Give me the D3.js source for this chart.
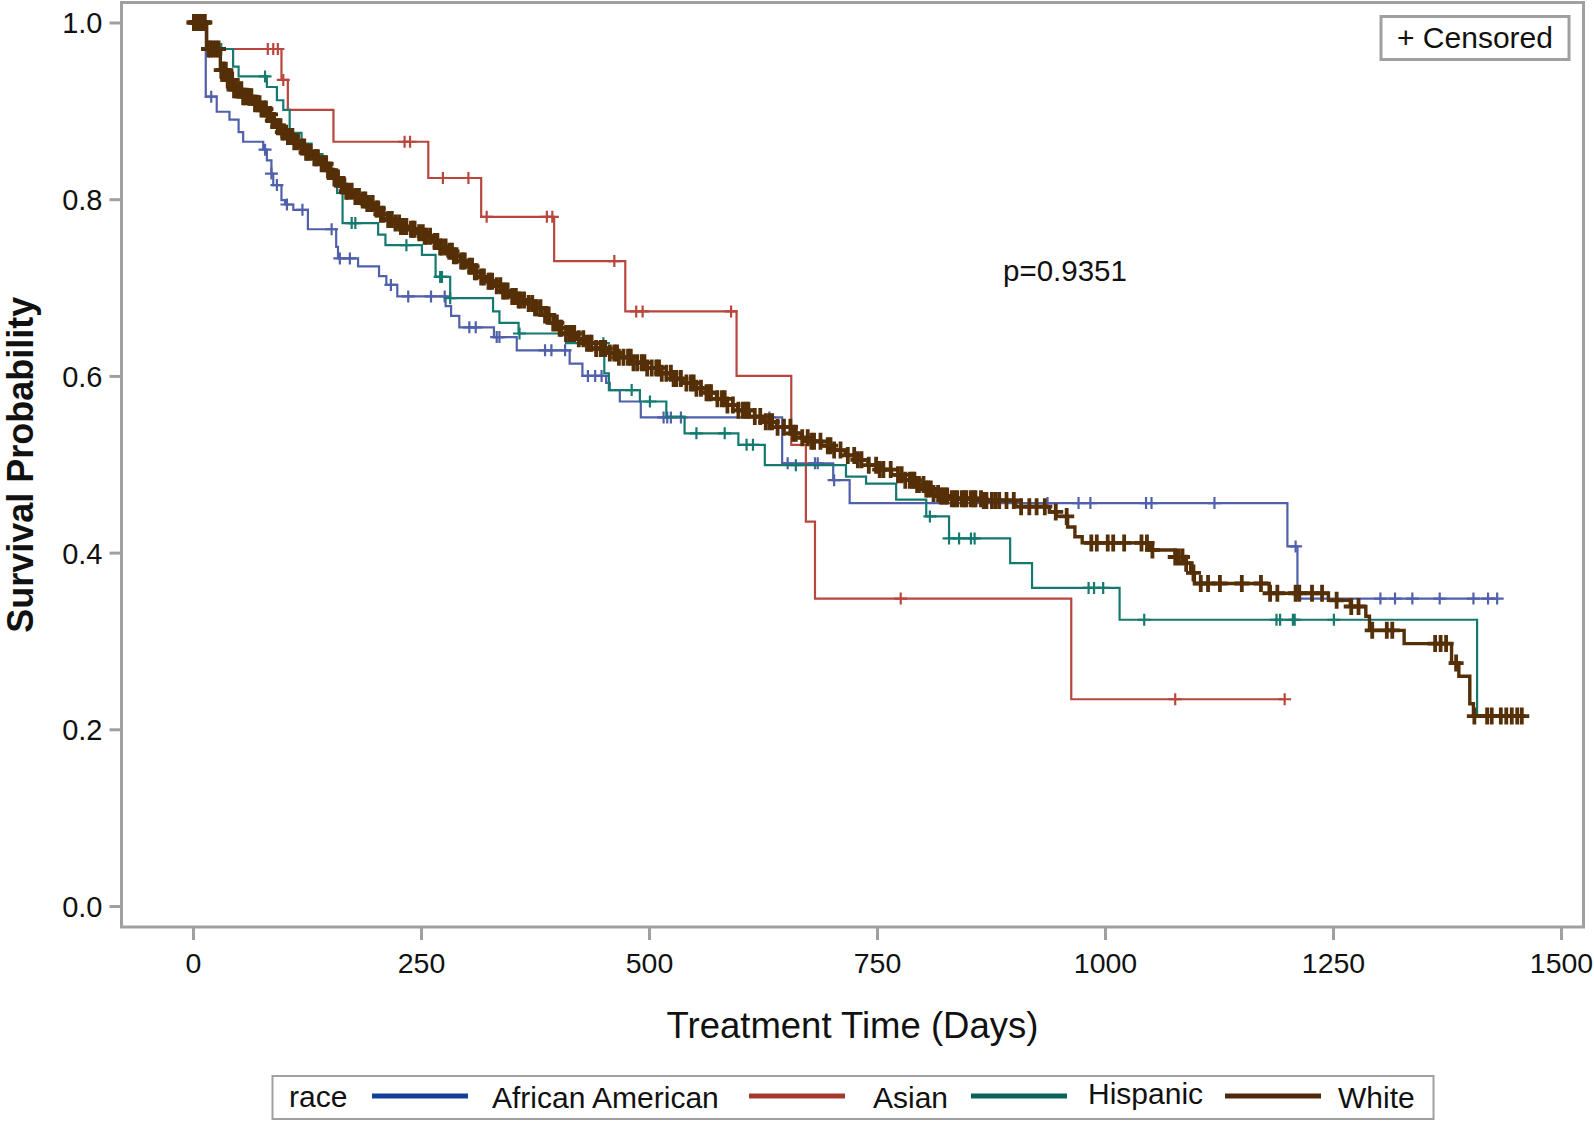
<!DOCTYPE html>
<html><head><meta charset="utf-8">
<script src="https://cdn.jsdelivr.net/npm/d3@7"></script>
<style>
html,body{margin:0;padding:0;background:#fff;}
svg{display:block;font-family:"Liberation Sans", Arial, Helvetica, sans-serif;}
</style></head><body>
<svg id="chart" width="1594" height="1122"></svg>
<script>
// ---------------- DATA ----------------
const groups = ["African American", "Asian", "Hispanic", "White"];
const xTicks = [0, 250, 500, 750, 1000, 1250, 1500];
const yTicks = [0.0, 0.2, 0.4, 0.6, 0.8, 1.0];
const yTickLabels = ["0.0", "0.2", "0.4", "0.6", "0.8", "1.0"];
const xTitle = "Treatment Time (Days)";
const yTitle = "Survival Probability";
const pValueText = "p=0.9351";
const legendTitle = "race";
const censorLegend = "+ Censored";

// African American
const aaTimes = [14, 26, 40, 50, 55, 77, 81, 86, 88, 97, 101, 110, 126, 157, 159, 181, 204, 212, 224, 277, 283, 292, 330, 355, 413, 427, 453, 457, 468, 491, 646, 702, 720, 1200, 1211];
const aaSurv = [0.916, 0.899, 0.890, 0.876, 0.865, 0.856, 0.844, 0.829, 0.816, 0.799, 0.794, 0.788, 0.766, 0.746, 0.733, 0.724, 0.713, 0.703, 0.690, 0.679, 0.668, 0.655, 0.644, 0.629, 0.614, 0.600, 0.592, 0.584, 0.571, 0.553, 0.501, 0.482, 0.456, 0.407, 0.348];
const aaCensor = [20, 79, 86, 92, 103, 120, 152, 161, 172, 217, 236, 261, 276, 303, 310, 333, 336, 386, 393, 408, 433, 441, 448, 516, 520, 524, 535, 632, 652, 682, 685, 703, 937, 971, 984, 1045, 1051, 1120, 1209, 1302, 1318, 1337, 1367, 1404, 1420, 1430];
const aaEnd = 1430;

// Asian
const asTimes = [15, 97, 104, 154, 258, 316, 396, 474, 596, 656, 672, 682, 963];
const asSurv = [0.970, 0.935, 0.901, 0.865, 0.824, 0.780, 0.730, 0.673, 0.600, 0.522, 0.435, 0.348, 0.234];
const asCensor = [82, 88, 93, 99, 232, 238, 274, 302, 322, 388, 394, 462, 486, 493, 590, 776, 1077, 1197];
const asEnd = 1197;

// Hispanic
const hiTimes = [15, 44, 50, 81, 92, 99, 106, 119, 130, 142, 150, 158, 164, 203, 211, 251, 266, 282, 329, 336, 357, 409, 451, 456, 490, 519, 539, 598, 627, 716, 738, 771, 804, 829, 896, 920, 1016, 1408];
const hiSurv = [0.970, 0.950, 0.939, 0.927, 0.912, 0.901, 0.875, 0.863, 0.851, 0.840, 0.829, 0.807, 0.773, 0.760, 0.748, 0.737, 0.712, 0.688, 0.673, 0.660, 0.648, 0.637, 0.603, 0.584, 0.571, 0.554, 0.535, 0.522, 0.499, 0.486, 0.478, 0.460, 0.441, 0.416, 0.388, 0.360, 0.324, 0.215];
const hiCensor = [31, 79, 154, 174, 178, 234, 271, 273, 282, 358, 450, 481, 501, 552, 583, 607, 614, 661, 808, 829, 840, 853, 857, 982, 988, 998, 1043, 1188, 1192, 1206, 1208, 1251];
const hiEnd = 1408;

// White
const whTimes = [15, 30, 38, 44, 55, 66, 74, 81, 87, 92, 98, 103, 110, 117, 124, 132, 139, 147, 154, 161, 168, 176, 183, 190, 198, 205, 213, 220, 227, 236, 245, 254, 263, 270, 278, 285, 293, 300, 308, 315, 322, 329, 338, 347, 355, 364, 373, 382, 391, 400, 409, 420, 431, 442, 453, 467, 482, 497, 512, 525, 537, 550, 563, 574, 585, 597, 610, 625, 640, 657, 667, 676, 689, 702, 715, 727, 740, 753, 766, 778, 793, 802, 811, 820, 829, 866, 902, 939, 947, 959, 967, 975, 1049, 1077, 1086, 1094, 1098, 1180, 1245, 1269, 1286, 1290, 1328, 1380, 1388, 1400, 1404];
const whSurv = [0.970, 0.946, 0.935, 0.924, 0.916, 0.908, 0.902, 0.896, 0.889, 0.882, 0.876, 0.871, 0.865, 0.859, 0.853, 0.847, 0.840, 0.833, 0.824, 0.815, 0.809, 0.803, 0.799, 0.795, 0.789, 0.783, 0.777, 0.773, 0.769, 0.766, 0.762, 0.758, 0.752, 0.746, 0.741, 0.736, 0.730, 0.724, 0.718, 0.712, 0.707, 0.702, 0.696, 0.690, 0.686, 0.682, 0.677, 0.669, 0.660, 0.654, 0.648, 0.642, 0.637, 0.631, 0.626, 0.621, 0.615, 0.609, 0.603, 0.597, 0.592, 0.586, 0.581, 0.574, 0.567, 0.561, 0.554, 0.548, 0.542, 0.535, 0.530, 0.526, 0.521, 0.516, 0.510, 0.505, 0.499, 0.494, 0.488, 0.482, 0.477, 0.472, 0.467, 0.464, 0.461, 0.459, 0.452, 0.446, 0.441, 0.429, 0.418, 0.411, 0.403, 0.395, 0.388, 0.377, 0.365, 0.354, 0.346, 0.339, 0.328, 0.312, 0.297, 0.275, 0.260, 0.229, 0.215];
const whCensor = [1, 2, 3, 4, 5, 6, 7, 8, 9, 10, 11, 12, 13, 17, 19, 22, 25, 28, 31, 33, 34, 36, 38, 39, 41, 43, 45, 47, 50, 53, 55, 57, 60, 62, 64, 68, 71, 73, 75, 78, 80, 82, 85, 87, 89, 93, 96, 98, 100, 104, 107, 109, 111, 115, 119, 122, 124, 126, 129, 133, 135, 137, 141, 144, 146, 148, 151, 155, 157, 159, 163, 166, 168, 170, 174, 178, 180, 182, 186, 189, 191, 193, 197, 201, 203, 206, 209, 214, 216, 218, 222, 226, 228, 231, 234, 239, 241, 243, 248, 252, 254, 256, 260, 265, 268, 271, 273, 277, 281, 284, 286, 289, 294, 296, 298, 303, 306, 309, 311, 316, 319, 324, 326, 328, 333, 337, 340, 342, 345, 350, 354, 357, 359, 363, 368, 372, 375, 377, 381, 386, 388, 390, 395, 399, 402, 404, 409, 413, 416, 418, 423, 428, 432, 435, 437, 442, 447, 450, 452, 457, 462, 465, 467, 472, 477, 480, 483, 487, 492, 495, 498, 503, 508, 511, 514, 519, 524, 527, 530, 535, 541, 546, 549, 552, 557, 563, 566, 568, 575, 580, 583, 586, 592, 598, 603, 606, 609, 616, 622, 628, 632, 635, 641, 648, 655, 658, 661, 668, 674, 678, 681, 688, 696, 699, 703, 710, 718, 725, 729, 733, 741, 749, 753, 757, 765, 773, 777, 781, 786, 789, 791, 794, 796, 801, 804, 806, 809, 812, 817, 820, 822, 825, 827, 832, 835, 838, 843, 846, 848, 853, 856, 858, 864, 867, 870, 876, 880, 884, 892, 900, 908, 917, 925, 934, 946, 958, 985, 991, 1003, 1009, 1021, 1040, 1046, 1052, 1077, 1081, 1085, 1089, 1097, 1105, 1113, 1126, 1150, 1171, 1181, 1189, 1209, 1213, 1227, 1238, 1254, 1270, 1278, 1293, 1309, 1315, 1362, 1368, 1374, 1385, 1405, 1419, 1424, 1434, 1440, 1446, 1452, 1457];
const whEnd = 1459;

const lineColors = ["#5060ab", "#b8463c", "#147a6f", "#552f07"];
const legendColors = ["#153e99", "#a43a2f", "#0b625a", "#4e2a0c"];

// ---------------- LAYOUT ----------------
const svg = d3.select("#chart");
const frame = {left: 121.5, right: 1583.5, top: 2.5, bottom: 927};
const x = d3.scaleLinear().domain([0, 1500]).range([193, 1561]);
const y = d3.scaleLinear().domain([0, 1]).range([906, 22.5]);
const gray = "#a0a0a0";

svg.append("rect").attr("width", 1594).attr("height", 1122).attr("fill", "#fff");

svg.append("clipPath").attr("id", "clip").append("rect")
  .attr("x", frame.left).attr("y", frame.top)
  .attr("width", frame.right - frame.left).attr("height", frame.bottom - frame.top);

// axes
const yAxis = d3.axisLeft(y).tickValues(yTicks).tickFormat((d, i) => yTickLabels[i]).tickSize(12).tickPadding(6);
const gy = svg.append("g").attr("transform", `translate(${frame.left},0)`).call(yAxis);
gy.select(".domain").remove();
gy.selectAll(".tick line").attr("stroke", gray).attr("stroke-width", 3);
gy.selectAll(".tick text").attr("font-size", 29).attr("fill", "#111")
  .attr("font-family", "Liberation Sans, Arial, sans-serif").attr("dy", "0.36em").attr("x", -19);

const xAxis = d3.axisBottom(x).tickValues(xTicks).tickFormat(d3.format("d")).tickSize(13).tickPadding(10);
const gx = svg.append("g").attr("transform", `translate(0,${frame.bottom})`).call(xAxis);
gx.select(".domain").remove();
gx.selectAll(".tick line").attr("stroke", gray).attr("stroke-width", 3);
gx.selectAll(".tick text").attr("font-size", 28.5).attr("fill", "#111")
  .attr("font-family", "Liberation Sans, Arial, sans-serif").attr("dy", null).attr("y", 46);

// titles
svg.append("text").attr("x", (frame.left + frame.right) / 2).attr("y", 1038)
  .attr("text-anchor", "middle").attr("font-size", 36.5).attr("fill", "#111").text(xTitle);
svg.append("text").attr("transform", `translate(33,${(frame.top + frame.bottom) / 2}) rotate(-90)`)
  .attr("text-anchor", "middle").attr("font-size", 36).attr("font-weight", "bold").attr("fill", "#111").text(yTitle);

// curves
const series = [
  {times: aaTimes, surv: aaSurv, censor: aaCensor, end: aaEnd},
  {times: asTimes, surv: asSurv, censor: asCensor, end: asEnd},
  {times: hiTimes, surv: hiSurv, censor: hiCensor, end: hiEnd},
  {times: whTimes, surv: whSurv, censor: whCensor, end: whEnd}
];

const plot = svg.append("g").attr("clip-path", "url(#clip)");
const line = d3.line().x(d => x(d[0])).y(d => y(d[1])).curve(d3.curveStepAfter);

series.forEach((s, gi) => {
  const n = Math.min(s.times.length, s.surv.length);
  const pts = [[0, 1]];
  for (let i = 0; i < n; i++) pts.push([s.times[i], s.surv[i]]);
  const last = pts[pts.length - 1];
  if (s.end > last[0]) pts.push([s.end, last[1]]);
  const survAt = t => {
    let v = 1;
    for (let i = 0; i < n; i++) { if (s.times[i] <= t) v = s.surv[i]; else break; }
    return v;
  };
  const isW = gi === 3;
  const hw = isW ? 7.5 : 6.5, hh = isW ? 8.5 : 6;
  const g = plot.append("g");
  g.append("path").attr("d", line(pts)).attr("fill", "none")
    .attr("stroke", lineColors[gi]).attr("stroke-width", isW ? 3.4 : 2.2);
  g.selectAll("path.c").data(s.censor).enter().append("path").attr("class", "c")
    .attr("d", t => {
      const cx = x(t), cy = y(survAt(t));
      return `M${cx - hw},${cy}h${2 * hw}M${cx},${cy - hh}v${2 * hh}`;
    })
    .attr("fill", "none").attr("stroke", lineColors[gi]).attr("stroke-width", isW ? 3.8 : 2.2);
});

// frame
svg.append("rect").attr("x", frame.left).attr("y", frame.top)
  .attr("width", frame.right - frame.left).attr("height", frame.bottom - frame.top)
  .attr("fill", "none").attr("stroke", gray).attr("stroke-width", 3);

// p-value
svg.append("text").attr("x", 1003).attr("y", 281).attr("font-size", 29.5).attr("fill", "#111").text(pValueText);

// censored legend
svg.append("rect").attr("x", 1381).attr("y", 16.5).attr("width", 188).attr("height", 43)
  .attr("fill", "#fff").attr("stroke", gray).attr("stroke-width", 3);
svg.append("text").attr("x", 1397).attr("y", 48).attr("font-size", 30).attr("fill", "#111").text(censorLegend);

// bottom legend
const lg = svg.append("g");
lg.append("rect").attr("x", 272.5).attr("y", 1076).attr("width", 1161).attr("height", 43)
  .attr("fill", "#fff").attr("stroke", gray).attr("stroke-width", 2);
lg.append("text").attr("x", 289).attr("y", 1107).attr("font-size", 30).attr("fill", "#111").text(legendTitle);
const legendLineX = [372, 749, 971, 1225];
const legendTextX = [492, 873, 1088, 1338];
const legendTextY = [1108, 1108, 1104, 1108];
groups.forEach((name, i) => {
  lg.append("line").attr("x1", legendLineX[i]).attr("x2", legendLineX[i] + 96)
    .attr("y1", 1096).attr("y2", 1096).attr("stroke", legendColors[i]).attr("stroke-width", 5);
  lg.append("text").attr("x", legendTextX[i]).attr("y", legendTextY[i]).attr("font-size", 30)
    .attr("fill", "#111").text(name);
});
</script>
</body></html>
